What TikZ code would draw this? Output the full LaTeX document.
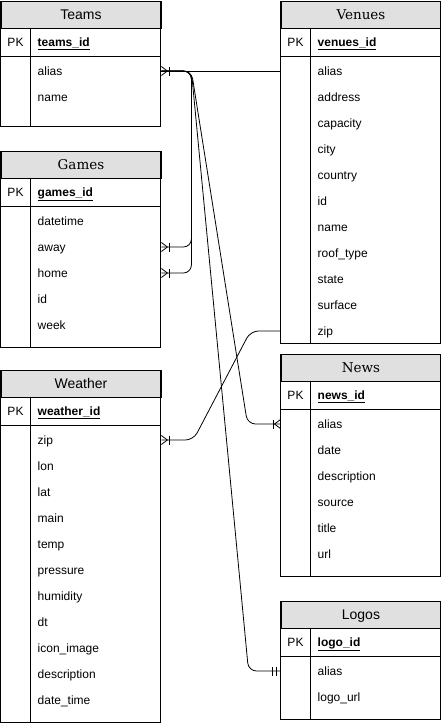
\documentclass[tikz,border=0pt]{standalone}
\usepackage{fontspec}
\setmainfont{Liberation Sans}
\newfontfamily\headserif{DejaVu Serif}
\usetikzlibrary{calc}

\definecolor{headgray}{RGB}{224,224,224}

\tikzset{
  tableline/.style={line width=0.9pt},
  relation/.style={line width=0.8pt, rounded corners=8pt},
  tablehead/.style={draw, line width=0.9pt, fill=headgray, anchor=north west,
    minimum width=160pt, minimum height=26.5pt, inner sep=0pt,
    text height=10pt, text depth=0pt},
  field/.style={anchor=west, inner sep=0pt, font=\fontsize{12}{14}\selectfont,
    text height=10pt, text depth=2pt},
  keyfield/.style={field, font=\fontsize{12}{14}\selectfont\bfseries},
  pkcell/.style={field, anchor=center},
  sanshead/.style={font=\fontsize{14}{16}\selectfont},
  serifhead/.style={font=\headserif\fontsize{13.5}{16}\selectfont},
  onemany/.pic={
    \draw[line width=0.8pt] (0,-4.5) -- (6,0) -- (0,4.5);
    \draw[line width=0.8pt] (7.5,-4.5) -- (7.5,4.5);
  },
  onlyone/.pic={
    \draw[line width=0.8pt] (4,-4.5) -- (4,4.5) (8,-4.5) -- (8,4.5);
  },
}

% name, left, top, bottom, head style, title, key, fields
\newcommand{\ertable}[8]{%
  \node[tablehead, #5] (#1-head) at (#2,#3) {#6};
  \draw[tableline] (#2,#3) rectangle (#2+160,#4);
  \draw[tableline] (#2,#3+55.5) -- (#2+160,#3+55.5);
  \draw[tableline] (#2+30,#3+26.5) -- (#2+30,#4);
  \node[pkcell] (#1-pk) at (#2+15,#3+41) {PK};
  \node[keyfield] (#1-key) at (#2+37,#3+41) {\underline{#7}};
  \foreach \f [count=\i] in {#8}
    \node[field] (#1-\i) at (#2+37,#3+44+26*\i) {\f};
}

\begin{document}
\begin{tikzpicture}[x=1pt, y=-1pt]
  \useasboundingbox (0,0) rectangle (441,723);

  % left column
  \ertable{teams}{0.5}{1}{126}{sanshead}{Teams}{teams\_id}{alias,name}
  \ertable{games}{0.5}{151}{347}{serifhead}{Games}{games\_id}
    {datetime,away,home,id,week}
  \ertable{weather}{0.5}{370}{722}{sanshead}{Weather}{weather\_id}
    {zip,lon,lat,main,temp,pressure,humidity,dt,icon\_image,description,date\_time}

  % right column
  \ertable{venues}{280.5}{1}{343}{serifhead}{Venues}{venues\_id}
    {alias,address,capacity,city,country,id,name,roof\_type,state,surface,zip}
  \ertable{news}{280.5}{354}{576}{serifhead}{News}{news\_id}
    {alias,date,description,source,title,url}
  \ertable{logos}{280.5}{601}{719}{sanshead}{Logos}{logo\_id}{alias,logo\_url}

  % teams alias
  \coordinate (fork) at ($(teams-1 -| teams-head.east)+(30,0)$);
  \draw[relation] (teams-1 -| teams-head.east) -- (venues-1 -| venues-head.west);
  \draw[relation] (games-2 -| games-head.east) -- ++(30,0) |- (teams-1 -| teams-head.east);
  \draw[relation] (games-3 -| games-head.east) -- ++(30,0) |- (teams-1 -| teams-head.east);
  \draw[relation] (news-1 -| news-head.west) -- ++(-33,0) -- (fork)
                  -- (teams-1 -| teams-head.east);
  \draw[relation] (logos-1 -| logos-head.west) -- ++(-32,0) -- (fork)
                  -- (teams-1 -| teams-head.east);

  % zip
  \draw[relation] (weather-1 -| weather-head.east) -- ++(32,0)
                  -- ($(venues-11 -| venues-head.west)+(-30,0)$)
                  -- (venues-11 -| venues-head.west);

  % ends
  \pic at (teams-1 -| teams-head.east) {onemany};
  \pic at (games-2 -| games-head.east) {onemany};
  \pic at (games-3 -| games-head.east) {onemany};
  \pic at (weather-1 -| weather-head.east) {onemany};
  \pic[rotate=180] at (news-1 -| news-head.west) {onemany};
  \pic[rotate=180] at (logos-1 -| logos-head.west) {onlyone};
\end{tikzpicture}
\end{document}
